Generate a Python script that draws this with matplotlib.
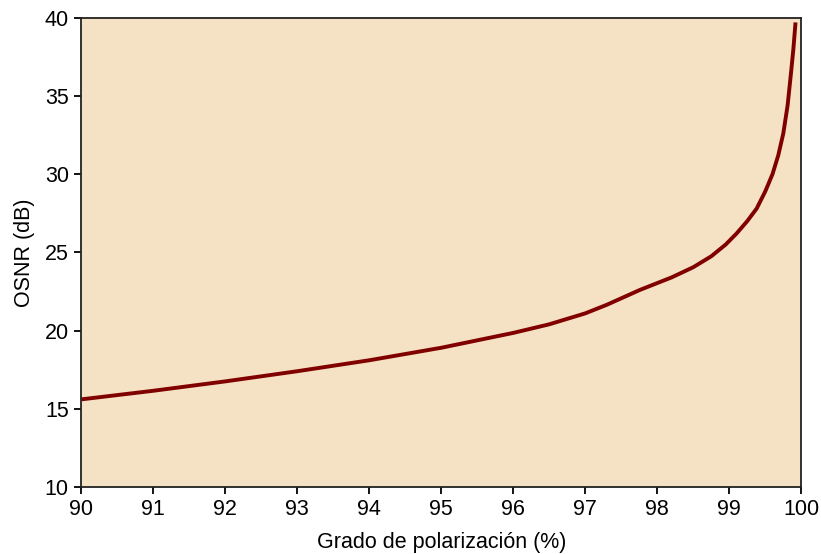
import matplotlib.pyplot as plt

# degree of polarization (%) vs OSNR (dB)
dop = [90, 91, 92, 93, 94, 95, 96, 96.5, 97, 97.3, 97.76, 98.2, 98.5, 98.75,
       98.95, 99.1, 99.25, 99.38, 99.5, 99.6, 99.68, 99.75, 99.81, 99.86,
       99.89, 99.92]
osnr = [15.6, 16.15, 16.75, 17.4, 18.1, 18.9, 19.85, 20.4, 21.1, 21.65, 22.6,
        23.4, 24.05, 24.75, 25.5, 26.2, 27.0, 27.8, 28.9, 30.0, 31.2, 32.6,
        34.4, 36.6, 38.0, 39.7]

plt.rcParams['font.family'] = ['Liberation Sans', 'DejaVu Sans']

fig, ax = plt.subplots(figsize=(8.21, 5.54), dpi=100)
fig.subplots_adjust(left=0.099, right=0.976, top=0.968, bottom=0.121)
ax.set_facecolor('#F5E1C3')
ax.plot(dop, osnr, color='#800000', linewidth=2.8, solid_capstyle='butt')

ax.set_xlim(90, 100)
ax.set_ylim(10, 40)
ax.set_xticks(range(90, 101))
ax.set_yticks(range(10, 41, 5))
ax.tick_params(labelsize=15.5, width=1.3, length=5, pad=4)
for s in ax.spines.values():
    s.set_linewidth(1.3)
    s.set_color('#222222')
ax.set_xlabel('Grado de polarización (%)', fontsize=15.5, labelpad=8)
ax.set_ylabel('OSNR (dB)', fontsize=15.5, labelpad=7)

plt.savefig('out.png')
